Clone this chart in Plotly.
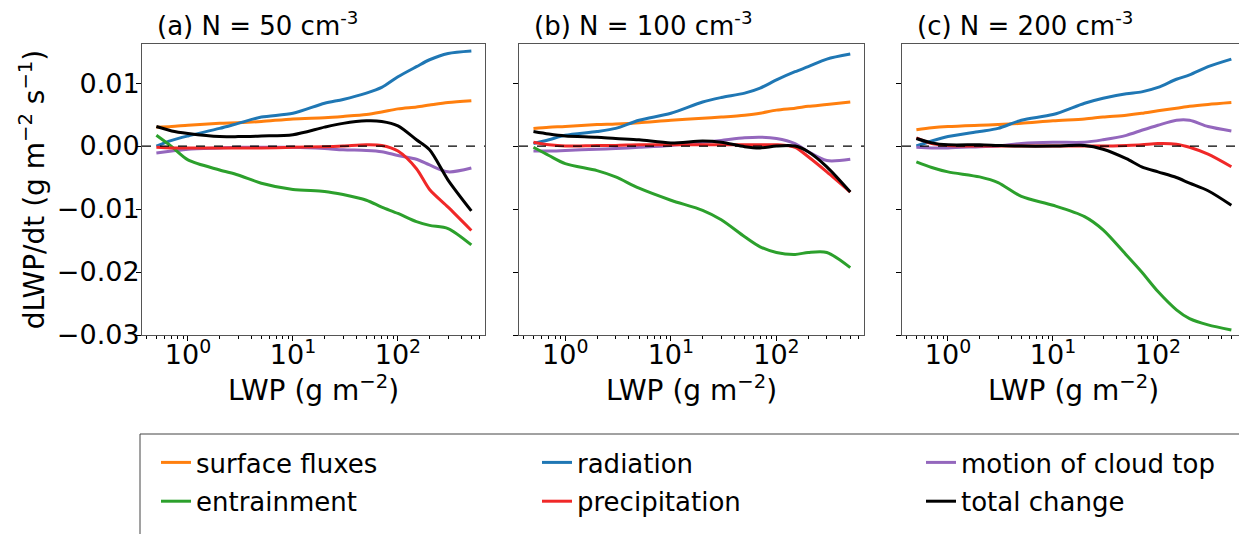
import plotly.graph_objects as go

# LWP grid (g m-2)
LWP = [0.5, 0.7, 1, 2, 3, 5, 10, 20, 30, 50, 70, 100, 150, 200, 300, 500]

# (a) N = 50 cm-3
surf_a = [0.0030, 0.0031, 0.0033, 0.0036, 0.0037, 0.0039, 0.0043, 0.0045, 0.0047, 0.0050, 0.0054, 0.0059, 0.0062, 0.0065, 0.0069, 0.0072]
rad_a = [0.0000, 0.0009, 0.0016, 0.0028, 0.0036, 0.0046, 0.0052, 0.0068, 0.0074, 0.0084, 0.0093, 0.0110, 0.0126, 0.0137, 0.0147, 0.0151]
top_a = [-0.0011, -0.0008, -0.0005, -0.0003, -0.0002, -0.0002, -0.0002, -0.0004, -0.0006, -0.0007, -0.0009, -0.0015, -0.0021, -0.0030, -0.0041, -0.0035]
ent_a = [0.0017, -0.0001, -0.0022, -0.0038, -0.0046, -0.0059, -0.0069, -0.0072, -0.0077, -0.0086, -0.0097, -0.0107, -0.0120, -0.0126, -0.0131, -0.0157]
prec_a = [-0.0002, -0.0003, -0.0003, -0.0003, -0.0003, -0.0003, -0.0002, -0.0001, 0.0000, 0.0002, 0.0001, -0.0008, -0.0036, -0.0069, -0.0097, -0.0134]
tot_a = [0.0031, 0.0024, 0.0020, 0.0015, 0.0015, 0.0016, 0.0018, 0.0030, 0.0036, 0.0040, 0.0039, 0.0032, 0.0010, -0.0006, -0.0054, -0.0103]

# (b) N = 100 cm-3
surf_b = [0.0028, 0.0030, 0.0031, 0.0034, 0.0035, 0.0037, 0.0041, 0.0044, 0.0046, 0.0049, 0.0052, 0.0057, 0.0060, 0.0063, 0.0066, 0.0070]
rad_b = [0.0004, 0.0010, 0.0017, 0.0023, 0.0028, 0.0041, 0.0052, 0.0070, 0.0077, 0.0084, 0.0092, 0.0105, 0.0118, 0.0126, 0.0138, 0.0146]
top_b = [-0.0008, -0.0008, -0.0007, -0.0005, -0.0004, -0.0002, 0.0001, 0.0006, 0.0009, 0.0013, 0.0014, 0.0012, 0.0004, -0.0009, -0.0023, -0.0021]
ent_b = [-0.0002, -0.0015, -0.0028, -0.0039, -0.0049, -0.0067, -0.0086, -0.0102, -0.0117, -0.0144, -0.0160, -0.0169, -0.0172, -0.0169, -0.0169, -0.0193]
prec_b = [0.0006, 0.0002, 0.0000, 0.0001, 0.0001, 0.0002, 0.0002, 0.0002, 0.0002, 0.0002, 0.0002, 0.0002, -0.0002, -0.0017, -0.0041, -0.0073]
tot_b = [0.0023, 0.0019, 0.0016, 0.0014, 0.0012, 0.0010, 0.0005, 0.0008, 0.0006, -0.0001, -0.0003, 0.0000, 0.0000, -0.0009, -0.0033, -0.0073]

# (c) N = 200 cm-3
surf_c = [0.0026, 0.0029, 0.0031, 0.0033, 0.0034, 0.0036, 0.0040, 0.0043, 0.0046, 0.0049, 0.0052, 0.0056, 0.0060, 0.0063, 0.0066, 0.0069]
rad_c = [0.0000, 0.0008, 0.0015, 0.0023, 0.0028, 0.0041, 0.0050, 0.0068, 0.0076, 0.0083, 0.0086, 0.0093, 0.0106, 0.0113, 0.0126, 0.0138]
top_c = [-0.0002, -0.0003, -0.0003, -0.0001, 0.0000, 0.0004, 0.0006, 0.0006, 0.0010, 0.0017, 0.0025, 0.0033, 0.0041, 0.0041, 0.0031, 0.0024]
ent_c = [-0.0025, -0.0034, -0.0041, -0.0049, -0.0058, -0.0080, -0.0094, -0.0112, -0.0133, -0.0173, -0.0200, -0.0231, -0.0260, -0.0274, -0.0284, -0.0292]
prec_c = [0.0013, 0.0004, 0.0001, 0.0000, 0.0000, 0.0000, 0.0000, 0.0000, 0.0000, 0.0001, 0.0002, 0.0004, 0.0003, -0.0002, -0.0013, -0.0033]
tot_c = [0.0012, 0.0005, 0.0002, 0.0002, 0.0001, 0.0000, 0.0000, 0.0001, -0.0005, -0.0020, -0.0033, -0.0041, -0.0050, -0.0059, -0.0071, -0.0094]

TITLES = ["(a) N = 50 cm<sup>-3</sup>", "(b) N = 100 cm<sup>-3</sup>", "(c) N = 200 cm<sup>-3</sup>"]
NAMES = ["surface fluxes", "radiation", "motion of cloud top", "entrainment", "precipitation", "total change"]
COLORS = ["#ff7f0e", "#1f77b4", "#9467bd", "#2ca02c", "#f02828", "#000000"]
# legend column for each series (3 columns x 2 rows)
LEG_COL = [0, 1, 2, 0, 1, 2]

PANELS = [
    [surf_a, rad_a, top_a, ent_a, prec_a, tot_a],
    [surf_b, rad_b, top_b, ent_b, prec_b, tot_b],
    [surf_c, rad_c, top_c, ent_c, prec_c, tot_c],
]

# the page body has an 8px margin, so the figure is drawn 8px in from the corner
OFF = 8
W, H = 1247 - OFF, 534 - OFF
FONT = "DejaVu Sans"


def fx(p):
    # page pixel -> paper x
    return (p - OFF) / W


def fy(p):
    # page pixel -> paper y
    return 1 - (p - OFF) / H


# page-pixel extents of the three axes boxes
X_PIX = [(142, 485), (519, 864), (902, 1245)]
Y_PIX = (44, 335)
LEG_X = [156, 537, 921]

fig = go.Figure()

for i, series in enumerate(PANELS):
    ax = "" if i == 0 else str(i + 1)
    for j, vals in enumerate(series):
        leg = "legend" if LEG_COL[j] == 0 else "legend" + str(LEG_COL[j] + 1)
        fig.add_trace(go.Scatter(
            x=LWP, y=vals, mode="lines", name=NAMES[j], legendgroup=NAMES[j],
            line=dict(color=COLORS[j], width=3, shape="spline", smoothing=0.8),
            xaxis="x" + ax, yaxis="y" + ax, showlegend=(i == 0), legend=leg,
        ))
    # zero line
    fig.add_shape(type="line", xref="x" + ax + " domain", yref="y" + ax,
                  x0=0, x1=1, y0=0, y1=0,
                  line=dict(color="black", width=1.3, dash="dash"))
    fig.add_annotation(text=TITLES[i], xref="paper", yref="paper",
                       x=fx(X_PIX[i][0] + 13), y=fy(24),
                       xanchor="left", yanchor="middle", showarrow=False,
                       font=dict(size=26, color="black", family=FONT))

axis_common = dict(showline=True, mirror=True, linecolor="#555555", linewidth=1,
                   ticks="outside", tickcolor="black", ticklen=5,
                   showgrid=False, zeroline=False,
                   tickfont=dict(size=27, color="black", family=FONT))

for i in range(3):
    key = "" if i == 0 else str(i + 1)
    fig.update_layout(**{
        "xaxis" + key: dict(
            type="log", range=[-0.438, 2.829],
            domain=[fx(X_PIX[i][0]), fx(X_PIX[i][1])],
            anchor="y" + key,
            tickvals=[1, 10, 100],
            ticktext=["10<sup>0</sup>", "10<sup>1</sup>", "10<sup>2</sup>"],
            ticklabelstandoff=-9,
            minor=dict(dtick="D1", ticks="outside", ticklen=3, tickcolor="black", showgrid=False),
            title=dict(text="LWP (g m<sup>\u22122</sup>)", standoff=0,
                       font=dict(size=28, color="black", family=FONT)),
            **axis_common,
        ),
        "yaxis" + key: dict(
            range=[-0.03, 0.0162],
            domain=[fy(Y_PIX[1]), fy(Y_PIX[0])],
            anchor="x" + key,
            tickvals=[-0.03, -0.02, -0.01, 0.0, 0.01],
            ticktext=["\u22120.03", "\u22120.02", "\u22120.01", "0.00", "0.01"],
            ticklabelstandoff=-9,
            showticklabels=(i == 0),
            title=dict(text="dLWP/dt (g m<sup>\u22122</sup> s<sup>\u22121</sup>)" if i == 0 else "",
                       standoff=4, font=dict(size=28, color="black", family=FONT)),
            **axis_common,
        ),
    })

# legend frame (runs off the bottom of the figure, as in the original)
fig.add_shape(type="rect", xref="paper", yref="paper",
              x0=fx(140), x1=fx(1245), y0=-0.2, y1=fy(434),
              line=dict(color="#444444", width=1), fillcolor="rgba(0,0,0,0)")

legend_style = dict(orientation="v", xanchor="left", y=fy(439), yanchor="top",
                    font=dict(size=26, color="black", family=FONT),
                    bgcolor="rgba(0,0,0,0)", borderwidth=0, tracegroupgap=2)

fig.update_layout(
    width=W, height=H,
    margin=dict(l=0, r=0, t=0, b=0, autoexpand=False),
    plot_bgcolor="white", paper_bgcolor="white",
    font=dict(family=FONT, color="black"),
    legend=dict(x=fx(LEG_X[0]), **legend_style),
    legend2=dict(x=fx(LEG_X[1]), **legend_style),
    legend3=dict(x=fx(LEG_X[2]), **legend_style),
)

fig.write_html("out.html")
